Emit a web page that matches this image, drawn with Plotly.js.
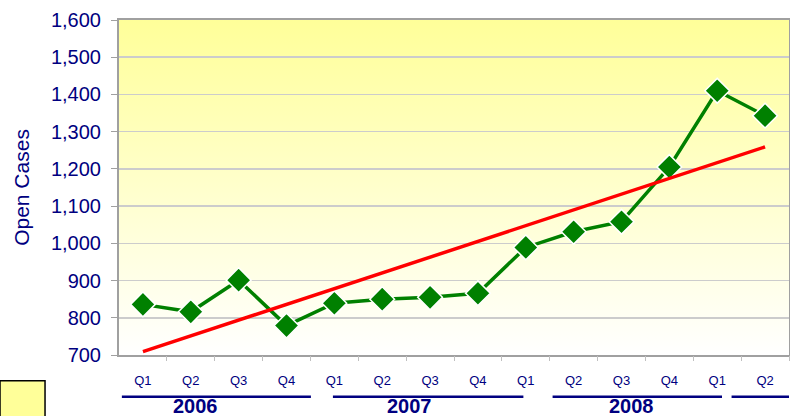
<!DOCTYPE html>
<html>
<head>
<meta charset="utf-8">
<script src="https://cdn.plot.ly/plotly-3.0.1.min.js"></script>
<style>
  body { margin: 0; background: #fff; }
  #chart { width: 790px; height: 416px; }
</style>
</head>
<body>
<div id="chart"></div>
<script>
// quarters along the x axis
var quarters = ["Q1","Q2","Q3","Q4","Q1","Q2","Q3","Q4","Q1","Q2","Q3","Q4","Q1","Q2"];
// open cases per quarter
var openCases = [836, 816, 901, 779, 839, 850, 855, 866, 989, 1031, 1058, 1205, 1410, 1343];
// trend line end values (first and last quarter)
var trendValues = [709, 1259];
var years = ["2006", "2007", "2008"];

// category positions, so repeated Qn labels stay separate
var idx = quarters.map((q, i) => i);

var cases = {
  x: idx,
  y: openCases,
  type: "scatter",
  mode: "lines+markers",
  line: {color: "#008000", width: 3.5},
  marker: {symbol: "diamond", size: 19, color: "#008000", line: {color: "#ffffff", width: 1.5}},
  hoverinfo: "y"
};

var trend = {
  x: [idx[0], idx[idx.length - 1]],
  y: trendValues,
  type: "scatter",
  mode: "lines",
  line: {color: "#ff0000", width: 3.5},
  hoverinfo: "skip"
};

// year bars under the quarter labels
var yearSpans = [[-0.44, 3.51], [3.97, 7.95], [8.56, 12.1], [12.3, 13.6]];
var yearCenters = [1.09, 5.58, 10.2];

var shapes = yearSpans.map(s => ({
  type: "line", xref: "x", yref: "paper",
  x0: s[0], x1: s[1], y0: -0.1245, y1: -0.1245,
  line: {color: "#000080", width: 2.5}
}));
// cut-off legend key at bottom left
shapes.push({
  type: "rect", xref: "paper", yref: "paper",
  x0: -0.1776, x1: -0.1104, y0: -0.077, y1: -0.2,
  fillcolor: "#ffff99", line: {color: "#000000", width: 1.5}
});

var annotations = years.map((yr, i) => ({
  text: "<b>" + yr + "</b>",
  x: yearCenters[i], xref: "x",
  y: -0.152, yref: "paper",
  yanchor: "middle",
  showarrow: false,
  font: {family: "Liberation Sans, Arial", size: 20, color: "#000080"}
}));

var bg = "<svg xmlns='http://www.w3.org/2000/svg' width='100' height='100' preserveAspectRatio='none'>" +
  "<defs><linearGradient id='g' x1='0' y1='0' x2='0' y2='1'>" +
  "<stop offset='0' stop-color='#ffff99'/><stop offset='1' stop-color='#ffffff'/>" +
  "</linearGradient></defs><rect width='100' height='100' fill='url(#g)'/></svg>";

var layout = {
  width: 790,
  height: 416,
  margin: {l: 119, r: 1, t: 20, b: 61},
  paper_bgcolor: "#ffffff",
  plot_bgcolor: "rgba(0,0,0,0)",
  showlegend: false,
  font: {family: "Liberation Sans, Arial", color: "#000080"},
  xaxis: {
    range: [-0.5, 13.5],
    tickmode: "array",
    tickvals: idx,
    ticktext: quarters,
    ticks: "",
    showgrid: false,
    zeroline: false,
    showline: true,
    linecolor: "#a0a0a0",
    linewidth: 2,
    mirror: true,
    tickfont: {size: 13, color: "#000080"},
    ticklabelstandoff: 12,
    fixedrange: true
  },
  xaxis2: {
    overlaying: "x",
    range: [-0.5, 13.5],
    tickmode: "array",
    tickvals: idx.map(i => i + 0.5),
    ticktext: idx.map(() => ""),
    ticks: "outside",
    ticklen: 5,
    tickcolor: "#c0c0c0",
    showgrid: false,
    showline: false,
    zeroline: false
  },
  yaxis: {
    range: [700, 1600],
    dtick: 100,
    tick0: 700,
    tickformat: ",d",
    ticks: "outside",
    ticklen: 6,
    tickcolor: "#a0a0a0",
    showline: true,
    linecolor: "#a0a0a0",
    linewidth: 2,
    mirror: true,
    gridcolor: "#cccccc",
    gridwidth: 1.5,
    zeroline: false,
    tickfont: {size: 20, color: "#000080"},
    ticklabelstandoff: 6,
    title: {text: "Open Cases", font: {size: 21, color: "#000080"}, standoff: 16},
    fixedrange: true
  },
  images: [{
    source: "data:image/svg+xml;charset=utf-8," + encodeURIComponent(bg),
    xref: "paper", yref: "paper",
    x: 0, y: 1, sizex: 1, sizey: 1,
    sizing: "stretch", layer: "below",
    xanchor: "left", yanchor: "top"
  }],
  shapes: shapes,
  annotations: annotations
};

// dummy trace so the tick-mark axis is drawn
var tickHolder = {x: [0], y: [null], xaxis: "x2", type: "scatter", hoverinfo: "skip", showlegend: false};

Plotly.newPlot("chart", [cases, trend, tickHolder], layout, {displayModeBar: false, staticPlot: true});
</script>
</body>
</html>
